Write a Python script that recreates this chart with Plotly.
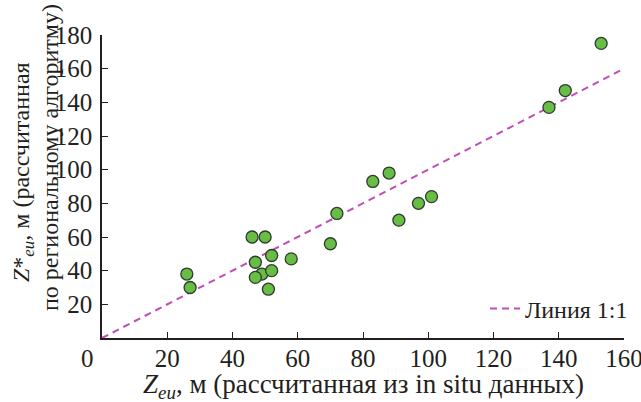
import plotly.graph_objects as go

# Data
x_insitu = [26, 27, 46, 50, 52, 58, 47, 49, 47, 52, 51, 72, 70, 83, 88, 97, 101, 91, 153, 142, 137]
y_regional = [38, 30, 60, 60, 49, 47, 45, 38, 36, 40, 29, 74, 56, 93, 98, 80, 84, 70, 175, 147, 137]
line_x = [0, 160]
line_y = [0, 160]
x_ticks = [20, 40, 60, 80, 100, 120, 140, 160]
y_ticks = [20, 40, 60, 80, 100, 120, 140, 160, 180]

FONT = "Liberation Serif, Times New Roman, serif"
TXT = "#231f20"
W, H = 641, 402
L, R, T, B = 102, 17, 35, 64
FS_TICK = 25
FS_LEG = 24
FS_XT = 27
FS_YT = 24

fig = go.Figure()
fig.add_trace(go.Scatter(
    x=line_x, y=line_y, mode="lines", name="Линия 1:1",
    line=dict(color="#c24db4", width=2, dash="7px,5px"),
    showlegend=True, hoverinfo="skip"))
fig.add_trace(go.Scatter(
    x=x_insitu, y=y_regional, mode="markers", showlegend=False,
    marker=dict(size=12, color="#68bd45", line=dict(color="#2e3b2e", width=1.3))))

axis_common = dict(
    showgrid=False, zeroline=False, showline=True, linecolor=TXT, linewidth=1.5,
    ticks="inside", ticklen=6, tickwidth=1.3, tickcolor=TXT, automargin=False,
    ticklabeloverflow="allow",
    tickfont=dict(family=FONT, size=FS_TICK, color=TXT))

fig.update_xaxes(range=[0, 160], tickvals=x_ticks, ticktext=[str(v) for v in x_ticks],
                 ticklabelstandoff=-3, **axis_common)
fig.update_yaxes(range=[0, 180], tickvals=y_ticks, ticktext=[str(v) for v in y_ticks],
                 ticklabelstandoff=3, **axis_common)

pw, ph = W - L - R, H - T - B
def px(xp):
    return (xp - L) / pw
def py(yp):
    return (H - B - yp) / ph

fig.add_annotation(text="0", xref="paper", yref="paper", x=px(87), y=py(358),
                   showarrow=False, font=dict(family=FONT, size=FS_TICK, color=TXT),
                   xanchor="center", yanchor="middle")
fig.add_annotation(text="<i>Z</i><sub><i>eu</i></sub>, м (рассчитанная из in situ данных)",
                   xref="paper", yref="paper", x=px(363), y=py(386),
                   showarrow=False, font=dict(family=FONT, size=FS_XT, color=TXT),
                   xanchor="center", yanchor="middle")
fig.add_annotation(text="<i>Z</i>*<sub><i>eu</i></sub>, м (рассчитанная",
                   xref="paper", yref="paper", x=px(23), y=py(172), textangle=-90,
                   showarrow=False, font=dict(family=FONT, size=FS_YT, color=TXT),
                   xanchor="center", yanchor="middle")
fig.add_annotation(text="по региональному алгоритму)",
                   xref="paper", yref="paper", x=px(50), y=py(158), textangle=-90,
                   showarrow=False, font=dict(family=FONT, size=FS_YT, color=TXT),
                   xanchor="center", yanchor="middle")

fig.update_layout(
    width=W, height=H, margin=dict(l=L, r=R, t=T, b=B, autoexpand=False),
    paper_bgcolor="white", plot_bgcolor="white",
    font=dict(family=FONT, size=FS_TICK, color=TXT),
    legend=dict(x=px(633), y=py(309), xanchor="right", yanchor="middle",
                bgcolor="rgba(0,0,0,0)", font=dict(family=FONT, size=FS_LEG, color=TXT),
                itemwidth=30, tracegroupgap=0),
)

fig.write_html("out.html", config={"displayModeBar": False},
               post_script="document.body.style.margin='0';")
